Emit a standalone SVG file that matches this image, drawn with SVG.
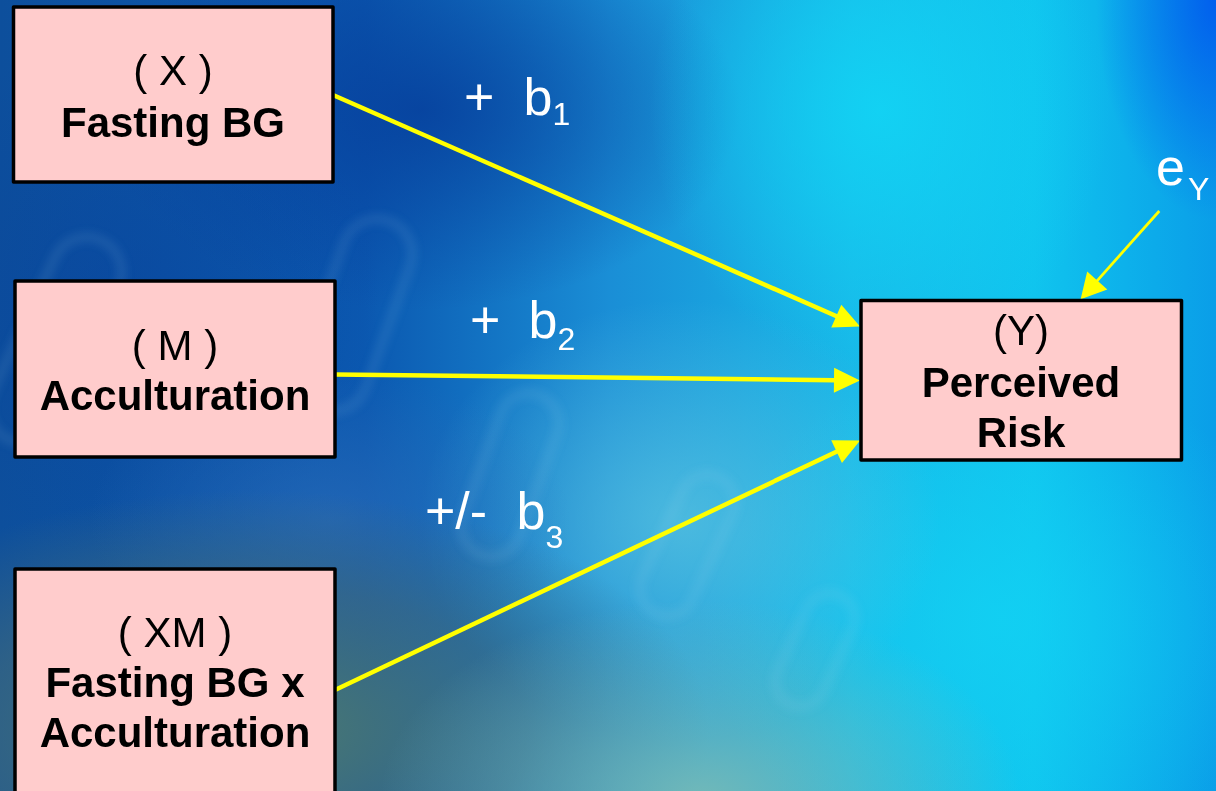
<svg xmlns="http://www.w3.org/2000/svg" width="1216" height="791" viewBox="0 0 1216 791">
  <style>
    .box { fill: #FFCCCC; stroke: #000000; stroke-width: 3.5; stroke-linejoin: round; }
    .reg { font-family: "Liberation Sans", Arial, sans-serif; font-size: 42px; fill: #000000; text-anchor: middle; }
    .bold { font-family: "Liberation Sans", Arial, sans-serif; font-size: 42px; font-weight: bold; fill: #000000; text-anchor: middle; }
    .lbl { font-family: "Liberation Sans", Arial, sans-serif; font-size: 52px; fill: #FFFFFF; }
    .sub { font-size: 32px; }
    .conn { fill: none; stroke: #FFFF00; stroke-width: 4.5; }
    .thin { fill: none; stroke: #FFFF00; stroke-width: 2.75; }
    .link { fill: none; stroke: #a8dcf2; stroke-width: 8; opacity: 0.13; }
  </style>
  <defs>
    <linearGradient id="bgBase" x1="0" y1="0" x2="1" y2="0">
      <stop offset="0" stop-color="#0d4f9c"/>
      <stop offset="0.3" stop-color="#0b58b0"/>
      <stop offset="0.5" stop-color="#1a8ed6"/>
      <stop offset="0.7" stop-color="#18b8e8"/>
      <stop offset="0.85" stop-color="#10c4ee"/>
      <stop offset="1" stop-color="#0a9ee8"/>
    </linearGradient>
    <radialGradient id="gDark" cx="0.5" cy="0.5" r="0.5">
      <stop offset="0" stop-color="#063f9c" stop-opacity="0.85"/>
      <stop offset="1" stop-color="#063f9c" stop-opacity="0"/>
    </radialGradient>
    <radialGradient id="gCyan" cx="0.5" cy="0.5" r="0.5">
      <stop offset="0" stop-color="#12d4f4" stop-opacity="0.9"/>
      <stop offset="1" stop-color="#12d4f4" stop-opacity="0"/>
    </radialGradient>
    <radialGradient id="gTeal" cx="0.5" cy="0.5" r="0.5">
      <stop offset="0" stop-color="#527e6a" stop-opacity="0.95"/>
      <stop offset="0.6" stop-color="#3f6a7c" stop-opacity="0.65"/>
      <stop offset="1" stop-color="#3f6a7c" stop-opacity="0"/>
    </radialGradient>
    <radialGradient id="gLight" cx="0.5" cy="0.5" r="0.5">
      <stop offset="0" stop-color="#7cbcb4" stop-opacity="0.9"/>
      <stop offset="1" stop-color="#7cbcb4" stop-opacity="0"/>
    </radialGradient>
    <radialGradient id="gSky" cx="0.5" cy="0.5" r="0.5">
      <stop offset="0" stop-color="#5cc4e0" stop-opacity="0.75"/>
      <stop offset="1" stop-color="#5cc4e0" stop-opacity="0"/>
    </radialGradient>
    <radialGradient id="gBlue" cx="0.5" cy="0.5" r="0.5">
      <stop offset="0" stop-color="#0058ee" stop-opacity="0.9"/>
      <stop offset="1" stop-color="#0058ee" stop-opacity="0"/>
    </radialGradient>
    <radialGradient id="gMid" cx="0.5" cy="0.5" r="0.5">
      <stop offset="0" stop-color="#2a6cb8" stop-opacity="0.7"/>
      <stop offset="1" stop-color="#2a6cb8" stop-opacity="0"/>
    </radialGradient>
    <filter id="blur" x="-20%" y="-20%" width="140%" height="140%">
      <feGaussianBlur stdDeviation="5"/>
    </filter>
    <marker id="arrow" markerUnits="userSpaceOnUse" markerWidth="30" markerHeight="30" refX="1" refY="0" orient="auto" overflow="visible">
      <path d="M0,-12.5 L26,0 L0,12.5 Z" fill="#FFFF00"/>
    </marker>
    <marker id="arrowThin" markerUnits="userSpaceOnUse" markerWidth="30" markerHeight="30" refX="1" refY="0" orient="auto" overflow="visible">
      <path d="M0,-13.5 L25,0 L0,13.5 Z" fill="#FFFF00"/>
    </marker>
  </defs>

  <g id="background">
    <rect x="0" y="0" width="1216" height="791" fill="url(#bgBase)"/>
    <ellipse cx="420" cy="110" rx="320" ry="200" fill="url(#gDark)"/>
    <ellipse cx="120" cy="300" rx="260" ry="260" fill="url(#gDark)" opacity="0.5"/>
    <ellipse cx="880" cy="110" rx="230" ry="260" fill="url(#gCyan)"/>
    <ellipse cx="1000" cy="620" rx="300" ry="260" fill="url(#gCyan)" opacity="0.8"/>
    <ellipse cx="680" cy="520" rx="260" ry="220" fill="url(#gSky)"/>
    <ellipse cx="330" cy="520" rx="240" ry="150" fill="url(#gMid)"/>
    <ellipse cx="250" cy="730" rx="460" ry="240" fill="url(#gTeal)"/>
    <ellipse cx="700" cy="800" rx="320" ry="200" fill="url(#gLight)"/>
    <ellipse cx="1216" cy="0" rx="120" ry="220" fill="url(#gBlue)"/>
    <g filter="url(#blur)">
      <rect class="link" x="320" y="215" width="70" height="200" rx="35" transform="rotate(20 355 315)"/>
      <rect class="link" x="480" y="390" width="60" height="170" rx="30" transform="rotate(20 510 475)"/>
      <rect class="link" x="660" y="470" width="55" height="150" rx="27" transform="rotate(25 687 545)"/>
      <rect class="link" x="790" y="590" width="50" height="120" rx="25" transform="rotate(25 815 650)"/>
      <rect class="link" x="20" y="230" width="70" height="220" rx="35" transform="rotate(25 55 340)"/>
    </g>
  </g>

  <g id="connectors">
    <path class="conn" d="M333,95 L837.2,316.5" marker-end="url(#arrow)"/>
    <path class="conn" d="M335,374.5 L835,380.2" marker-end="url(#arrow)"/>
    <path class="conn" d="M335,690 L837.5,451.2" marker-end="url(#arrow)"/>
    <path class="thin" d="M1159.3,211 L1096.6,281.3" marker-end="url(#arrowThin)"/>
  </g>

  <g id="node-X">
    <rect class="box" x="13.5" y="7" width="319.5" height="175"/>
    <text class="reg" x="173" y="85">( X )</text>
    <text class="bold" x="173" y="137">Fasting BG</text>
  </g>

  <g id="node-M">
    <rect class="box" x="15" y="281" width="320" height="176"/>
    <text class="reg" x="175" y="360">( M )</text>
    <text class="bold" x="175" y="410">Acculturation</text>
  </g>

  <g id="node-XM">
    <rect class="box" x="15" y="569" width="320" height="240"/>
    <text class="reg" x="175" y="647">( XM )</text>
    <text class="bold" x="175" y="697">Fasting BG x</text>
    <text class="bold" x="175" y="747">Acculturation</text>
  </g>

  <g id="node-Y">
    <rect class="box" x="861" y="300.5" width="320.5" height="159.5"/>
    <text class="reg" x="1021" y="345">(Y)</text>
    <text class="bold" x="1021" y="397">Perceived</text>
    <text class="bold" x="1021" y="447">Risk</text>
  </g>

  <g id="labels">
    <text class="lbl" x="464" y="115">+<tspan x="523.6">b</tspan><tspan class="sub" dy="10">1</tspan></text>
    <text class="lbl" x="470" y="338">+<tspan x="528.6">b</tspan><tspan class="sub" dy="12">2</tspan></text>
    <text class="lbl" x="425" y="529">+/-<tspan x="516.6">b</tspan><tspan class="sub" dy="19">3</tspan></text>
    <text class="lbl" x="1156" y="185" font-size="44">e<tspan x="1188" dy="15" font-size="32">Y</tspan></text>
  </g>
</svg>
